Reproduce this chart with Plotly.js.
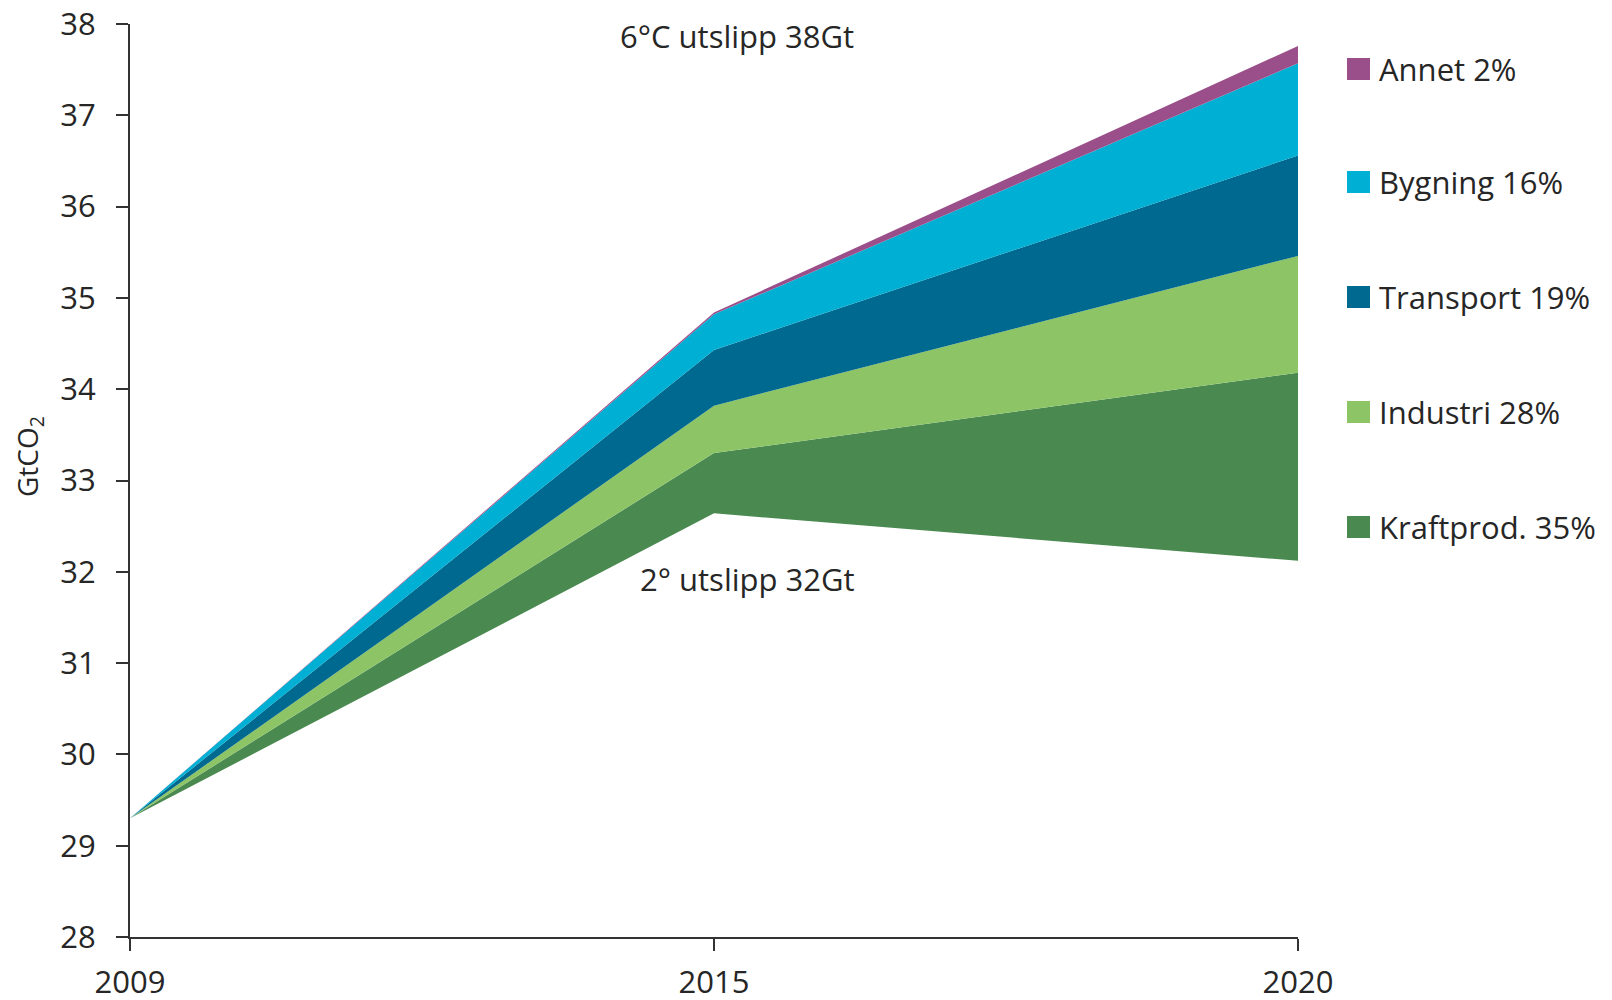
<!DOCTYPE html>
<html>
<head>
<meta charset="utf-8">
<script src="https://cdn.plot.ly/plotly-3.0.1.min.js"></script>
<style>
  html, body { margin: 0; padding: 0; background: #fff; }
  #chart { width: 1612px; height: 1000px; }
</style>
</head>
<body>
<div id="chart"></div>
<script>
// ---- data ----
const years = ['2009', '2015', '2020'];
const baseline2deg = [29.3, 32.64, 32.12];   // 2° path (invisible base of stack)
const kraftprod = [0, 0.66, 2.06];
const industri = [0, 0.52, 1.28];
const transport = [0, 0.61, 1.10];
const bygning = [0, 0.39, 1.01];
const annet = [0, 0.02, 0.19];
const seriesNames = ['Kraftprod. 35%', 'Industri 28%', 'Transport 19%', 'Bygning 16%', 'Annet 2%'];
const seriesColors = ['#4a8a50', '#8cc466', '#00698f', '#00b0d4', '#9b4f8a'];
const yTicks = [28, 29, 30, 31, 32, 33, 34, 35, 36, 37, 38];
const label6 = '6°C utslipp 38Gt';
const label2 = '2° utslipp 32Gt';
const yTitle = 'GtCO<sub>2</sub>';

// ---- layout geometry (pixels) ----
const W = 1612, H = 1000;
const L = 130, R = 1298, T = 24, B = 937;
const px2x = p => (p - L) / (R - L);
const py2y = p => (B - p) / (B - T);
const FONT = '"Open Sans", Lato, sans-serif';
const FS = 31;
const TXT = '#262626';

const seriesVals = [kraftprod, industri, transport, bygning, annet];
const traces = [{
  x: years, y: baseline2deg, type: 'scatter', mode: 'lines',
  stackgroup: 'one', fill: 'none', line: { width: 0, color: 'rgba(0,0,0,0)' },
  showlegend: false, hoverinfo: 'skip'
}];
seriesVals.forEach((v, i) => {
  traces.push({
    x: years, y: v, type: 'scatter', mode: 'lines', name: seriesNames[i],
    stackgroup: 'one', fill: 'tonexty', fillcolor: seriesColors[i],
    line: { width: 0, color: seriesColors[i] }, showlegend: false, hoverinfo: 'skip'
  });
});

// legend drawn as squares + text (top to bottom: Annet ... Kraftprod)
const legendRowsY = [527, 412, 297, 182, 69]; // pixel centers, index matching seriesNames
const shapes = [];
const annotations = [];
seriesNames.forEach((n, i) => {
  const cy = legendRowsY[i];
  shapes.push({
    type: 'rect', xref: 'paper', yref: 'paper',
    x0: px2x(1347), x1: px2x(1370), y0: py2y(cy + 11), y1: py2y(cy - 11),
    fillcolor: seriesColors[i], line: { width: 0 }
  });
  annotations.push({
    xref: 'paper', yref: 'paper', x: px2x(1377), y: py2y(cy),
    xanchor: 'left', yanchor: 'middle', text: n, showarrow: false,
    font: { family: FONT, size: FS, color: TXT }
  });
});
annotations.push({
  xref: 'paper', yref: 'paper', x: px2x(737), y: py2y(36),
  xanchor: 'center', yanchor: 'middle', text: label6, showarrow: false,
  font: { family: FONT, size: FS, color: TXT }
});
annotations.push({
  xref: 'paper', yref: 'paper', x: px2x(748), y: py2y(579),
  xanchor: 'center', yanchor: 'middle', text: label2, showarrow: false,
  font: { family: FONT, size: FS, color: TXT }
});
annotations.push({
  xref: 'paper', yref: 'paper', x: px2x(29), y: py2y(457),
  xanchor: 'center', yanchor: 'middle', textangle: -90, text: yTitle, showarrow: false,
  font: { family: FONT, size: FS - 3, color: TXT }
});

const layout = {
  width: W, height: H,
  margin: { l: L, r: W - R, t: T, b: H - B, pad: 0 },
  paper_bgcolor: '#fff', plot_bgcolor: '#fff',
  showlegend: false,
  font: { family: FONT, size: FS, color: TXT },
  xaxis: {
    type: 'category', range: [0, years.length - 1],
    showgrid: false, zeroline: false,
    showline: true, linecolor: '#333', linewidth: 2,
    ticks: 'outside', ticklen: 12, tickwidth: 2, tickcolor: '#333',
    ticklabelstandoff: 5,
    tickfont: { family: FONT, size: FS, color: TXT }
  },
  yaxis: {
    range: [28, 38], tickvals: yTicks, ticktext: yTicks.map(String),
    showgrid: false, zeroline: false,
    showline: true, linecolor: '#333', linewidth: 2,
    ticks: 'outside', ticklen: 12, tickwidth: 2, tickcolor: '#333',
    ticklabelstandoff: 14,
    tickfont: { family: FONT, size: FS, color: TXT }
  },
  shapes: shapes,
  annotations: annotations
};

Plotly.newPlot('chart', traces, layout, { staticPlot: true, displayModeBar: false });
</script>
</body>
</html>
